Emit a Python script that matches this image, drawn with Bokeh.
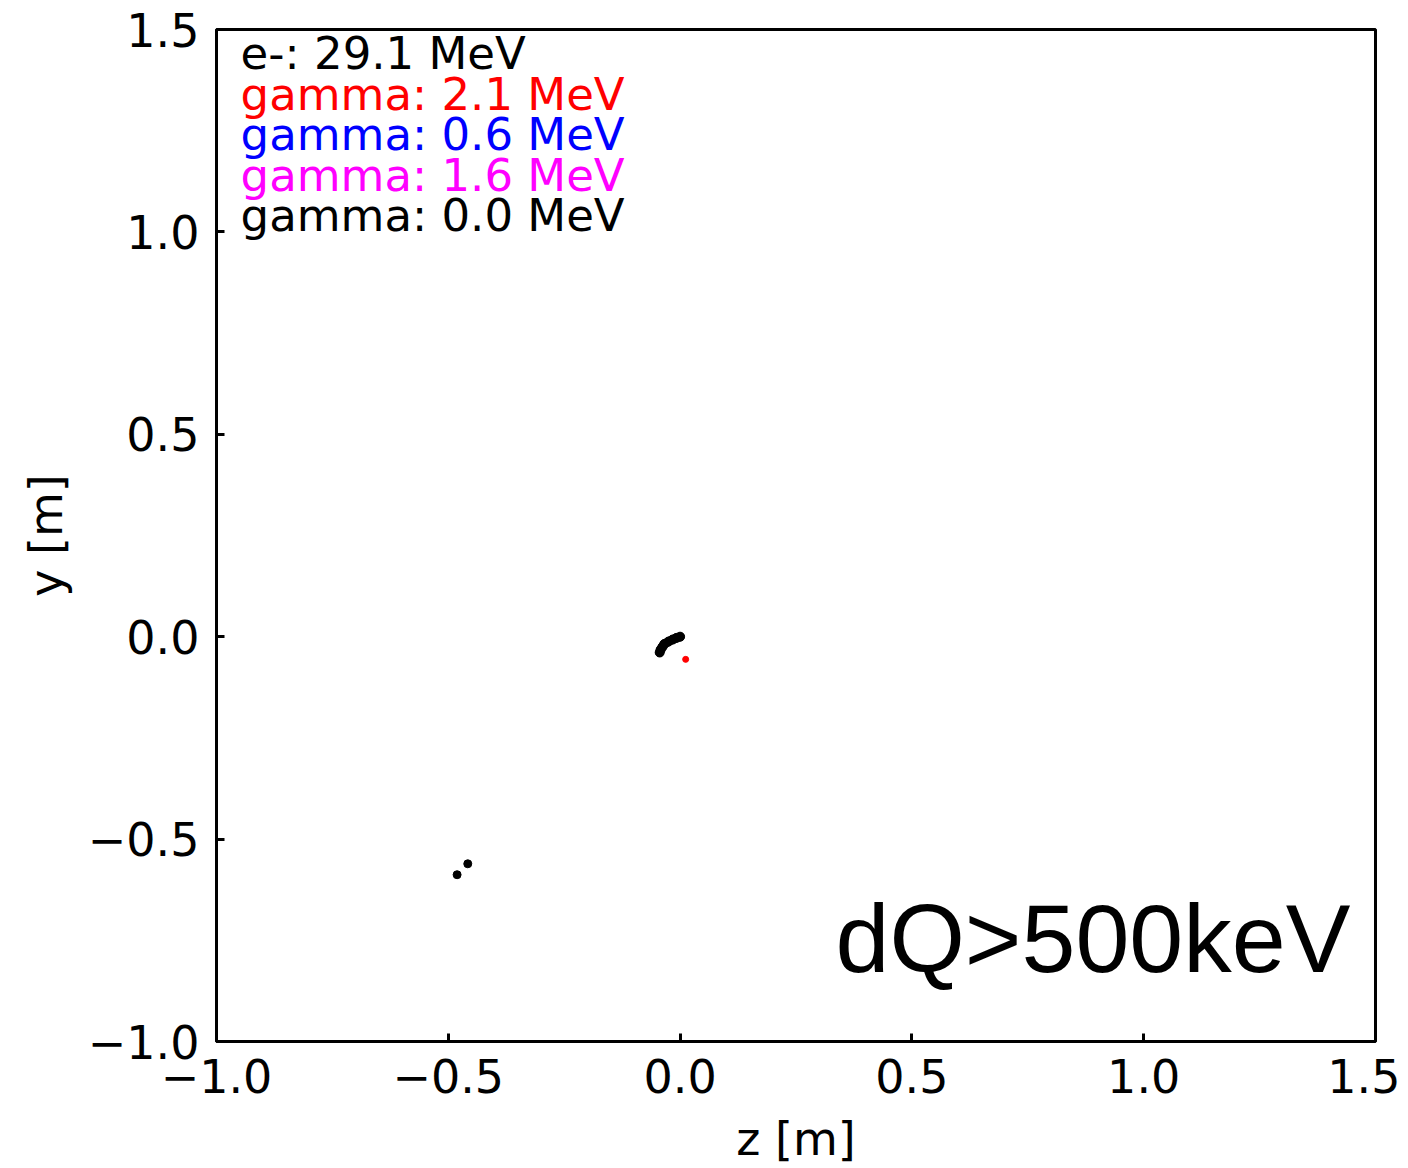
from bokeh.plotting import figure
from bokeh.models import Range1d, FixedTicker, CustomJSTickFormatter, ColumnDataSource
from bokeh.core.properties import value
from bokeh.embed import file_html
from bokeh.resources import INLINE

# electron track (black)
track_z = [0.0, -0.008, -0.016, -0.025, -0.034, -0.038, -0.042, -0.044]
track_y = [0.0, -0.003, -0.007, -0.012, -0.018, -0.025, -0.032, -0.039]
# gamma deposits
red_z = [0.012]
red_y = [-0.056]
black_z = [-0.458, -0.481]
black_y = [-0.561, -0.588]

legend_texts = ["e-: 29.1 MeV", "gamma: 2.1 MeV", "gamma: 0.6 MeV",
                "gamma: 1.6 MeV", "gamma: 0.0 MeV"]
legend_colors = ["black", "red", "blue", "magenta", "black"]
legend_y = [1.44, 1.34, 1.24, 1.14, 1.04]
legend_x = [-0.948] * 5

ticks = [-1.0, -0.5, 0.0, 0.5, 1.0, 1.5]

p = figure(width=1400, height=1168, output_backend="svg", toolbar_location=None,
           x_range=Range1d(-1.0, 1.5), y_range=Range1d(-1.0, 1.5),
           min_border_left=216, min_border_right=25, min_border_top=29, min_border_bottom=127)
p.grid.visible = False
p.outline_line_color = "black"
p.outline_line_width = 3
p.background_fill_color = "white"
p.border_fill_color = "white"

fmt = CustomJSTickFormatter(code="return tick.toFixed(1).replace('-', '\u2212');")
for ax in (p.xaxis[0], p.yaxis[0]):
    ax.ticker = FixedTicker(ticks=ticks)
    ax.formatter = fmt
    ax.minor_tick_line_color = None
    ax.major_tick_in = 8
    ax.major_tick_out = 0
    ax.major_tick_line_width = 3
    ax.axis_line_width = 3
    ax.major_label_text_font = "DejaVu Sans"
    ax.major_label_text_font_size = "46px"
    ax.major_label_text_color = "black"
    ax.major_label_text_line_height = 1.0
    ax.axis_label_text_font = "DejaVu Sans"
    ax.axis_label_text_font_size = "46px"
    ax.axis_label_text_font_style = "normal"
    ax.axis_label_text_color = "black"
    ax.axis_label_text_line_height = 1.0

p.xaxis.axis_label = "z [m]"
p.yaxis.axis_label = "y [m]"
p.xaxis.major_label_standoff = 17
p.yaxis.major_label_standoff = 17
p.xaxis.axis_label_standoff = 16
p.yaxis.axis_label_standoff = 12

p.line(track_z, track_y, line_color="black", line_width=9, line_cap="round")
p.scatter(track_z, track_y, size=9, color="black")
p.scatter(black_z, black_y, size=8, color="black")
p.scatter(red_z, red_y, size=6, color="red")

src = ColumnDataSource(dict(x=legend_x, y=legend_y, t=legend_texts, c=legend_colors))
p.text(x="x", y="y", text="t", text_color="c", source=src,
       text_font=value("DejaVu Sans"), text_font_size="45px",
       text_baseline="alphabetic", text_align="left")

p.text(x=[1.446], y=[-0.746], text=["dQ>500keV"], text_color="black",
       text_font=value("Liberation Sans"), text_font_size="97px",
       text_baseline="alphabetic", text_align="right")

open("out.html", "w").write(file_html(p, INLINE))
